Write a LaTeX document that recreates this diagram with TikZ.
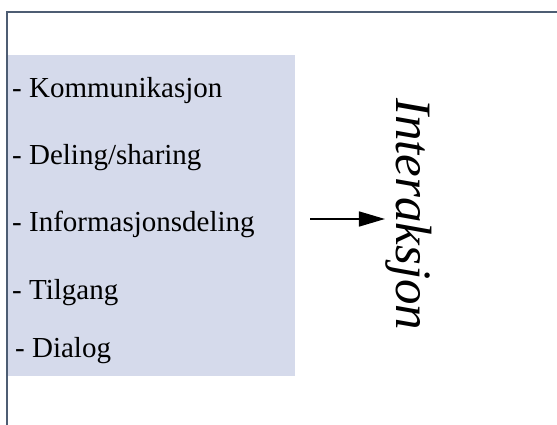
\documentclass[tikz,border=0pt]{standalone}
\usepackage{fontspec}
\setmainfont{Liberation Serif}
\usetikzlibrary{arrows.meta}
\definecolor{framecol}{RGB}{77,93,115}
\definecolor{listfill}{RGB}{213,218,235}
\tikzset{
  frameline/.style={draw=framecol, line width=2pt},
  listitem/.style={anchor=base west, inner sep=0pt, font=\fontsize{29}{34}\selectfont},
  bigword/.style={rotate=-90, anchor=base west, inner sep=0pt, font=\fontsize{51}{60}\selectfont\itshape},
  flowarrow/.style={line width=1.6pt, -{Triangle[length=26pt, width=15pt]}}
}
\begin{document}
\begin{tikzpicture}[x=1pt, y=1pt]
  \useasboundingbox (0,0) rectangle (557,425);
  % outer frame: top and left edges only
  \draw[frameline] (6.5,0) -- (6.5,413) -- (557,413);
  % shaded list panel
  \fill[listfill] (8,49) rectangle (295,370);
  % list entries
  \node[listitem] (k) at (12,327) {- Kommunikasjon};
  \node[listitem] (d) at (12,260) {- Deling/sharing};
  \node[listitem] (i) at (12,193) {- Informasjonsdeling};
  \node[listitem] (t) at (12,125) {- Tilgang};
  \node[listitem] (g) at (15,67) {- Dialog};
  % vertical label and arrow
  \node[bigword] (lab) at (396,327) {Interaksjon};
  \coordinate (src) at (310,206);
  \draw[flowarrow] (src) -- (src -| lab.south);
\end{tikzpicture}
\end{document}
